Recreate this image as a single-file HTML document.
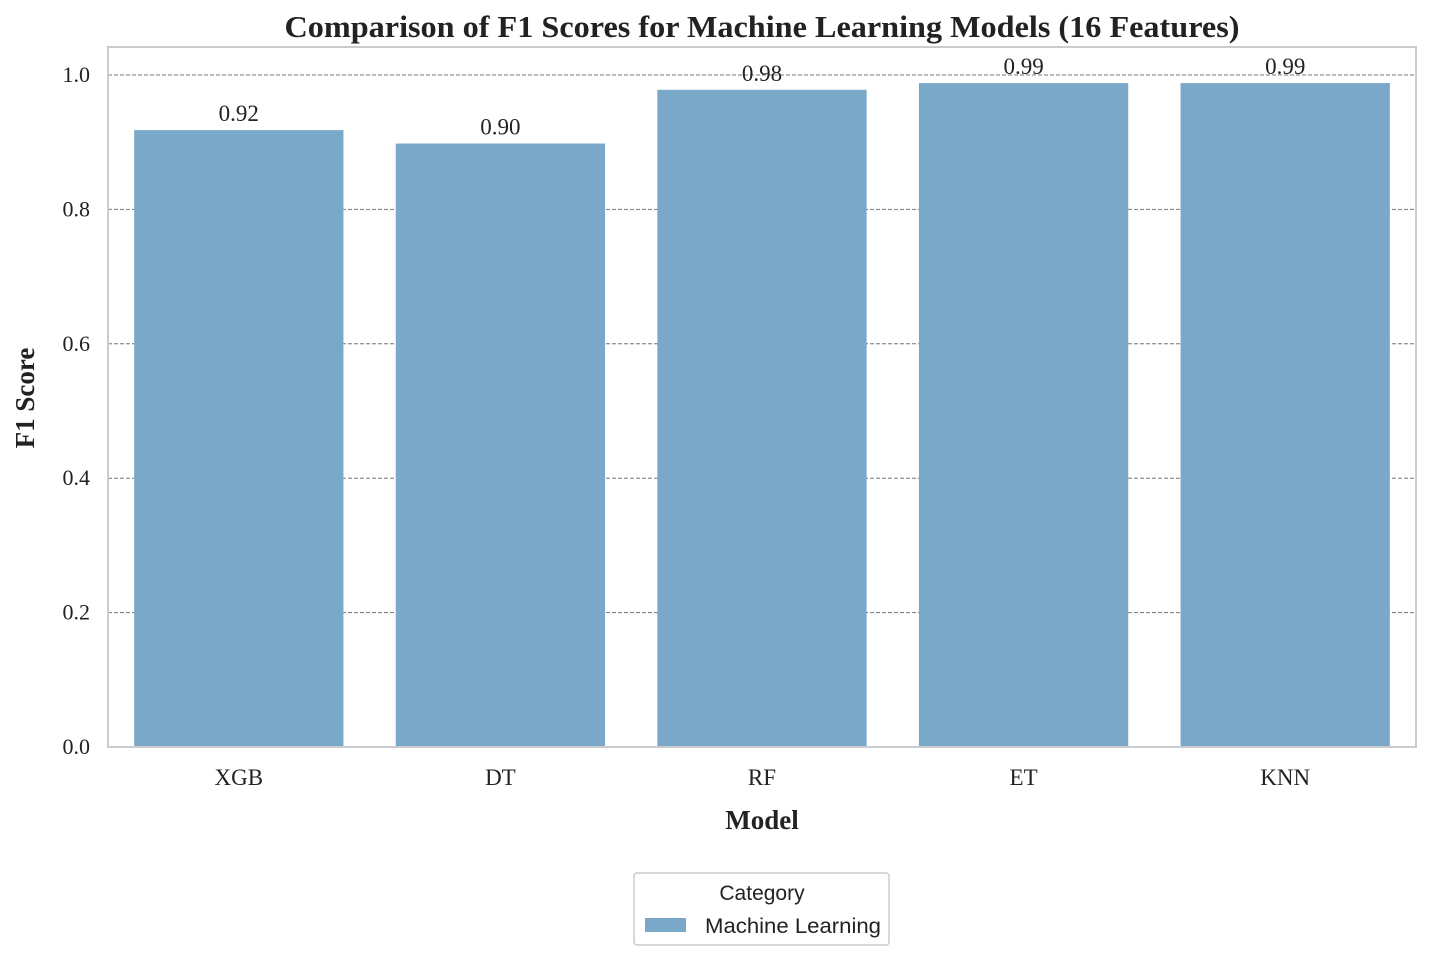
<!DOCTYPE html>
<html><head><meta charset="utf-8"><style>
body{margin:0;background:#fff;}
svg text{font-family:"Liberation Serif",serif;fill:#222;}
</style></head><body>
<svg id="chart" width="1430" height="961" xmlns="http://www.w3.org/2000/svg">
<text x="762" y="37" text-anchor="middle" font-size="31" font-weight="bold" textLength="955" lengthAdjust="spacingAndGlyphs">Comparison of F1 Scores for Machine Learning Models (16 Features)</text>
<g id="grid"></g>
<g id="bars"></g>
<g id="ticks"></g>
<rect x="108" y="47" width="1308" height="700" fill="none" stroke="#cccccc" stroke-width="2"/>
<text x="762" y="829" text-anchor="middle" font-size="27" font-weight="bold">Model</text>
<text transform="translate(34,398) rotate(-90)" text-anchor="middle" font-size="27" font-weight="bold">F1 Score</text>
<g>
<rect x="634" y="873" width="255" height="72" rx="3" fill="#fff" stroke="#cccccc" stroke-width="1.5"/>
<text x="762" y="900" text-anchor="middle" font-size="21" style="font-family:'Liberation Sans',sans-serif">Category</text>
<rect x="645" y="918" width="41" height="14" fill="#79a8c8"/>
<text x="705" y="933" font-size="21" textLength="176" lengthAdjust="spacingAndGlyphs" style="font-family:'Liberation Sans',sans-serif">Machine Learning</text>
</g>
</svg>
<script>
const categories = ["XGB","DT","RF","ET","KNN"];
const f1Values = [0.918,0.898,0.978,0.988,0.988];
const yTicks = [0.0,0.2,0.4,0.6,0.8,1.0];
const NS="http://www.w3.org/2000/svg";
const left=108,right=1416,y0=747,pxPerUnit=672;
const band=(right-left)/categories.length;
const yScale=v=>y0-v*pxPerUnit;
const xScale=i=>left+band*i+band/2;
function mk(tag,attrs,parent,txt){const e=document.createElementNS(NS,tag);for(const k in attrs)e.setAttribute(k,attrs[k]);if(txt!==undefined)e.textContent=txt;document.getElementById(parent).appendChild(e);return e;}
yTicks.forEach(t=>{
  const y=yScale(t);
  if(t>0){const l=mk('line',{x1:left,x2:right,y1:y,y2:y,stroke:'#777','stroke-width':1,'stroke-dasharray':'4,2'},'grid');
  
  }
  const tx=mk('text',{x:left-18,y:y+7,'text-anchor':'end','font-size':22},'ticks',t.toFixed(1));
  
  
});
categories.forEach((c,i)=>{
  const w=band*0.8,x=xScale(i)-w/2,y=yScale(f1Values[i]);
  const r=mk('rect',{x:x,y:y,width:w,height:y0-y,fill:'#79a8c8'},'bars');
  
  
  const v=mk('text',{x:xScale(i),y:y-9,'text-anchor':'middle','font-size':23},'bars',f1Values[i].toFixed(2));
  
  
  const tl=mk('text',{x:xScale(i),y:785,'text-anchor':'middle','font-size':23},'ticks',c);
  
  
});
</script>
</body></html>
